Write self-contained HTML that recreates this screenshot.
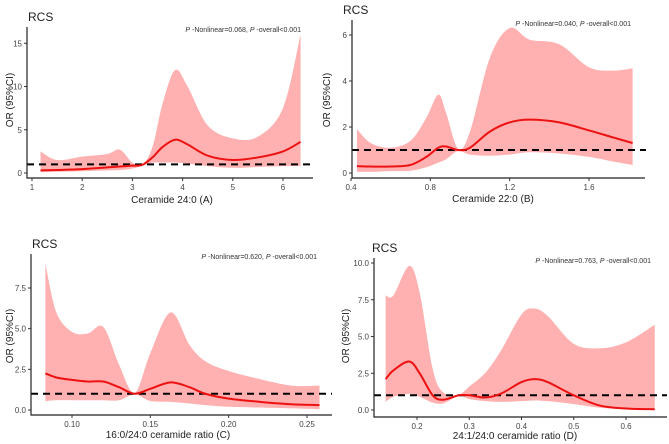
<!DOCTYPE html>
<html><head><meta charset="utf-8">
<style>
html,body{margin:0;padding:0;background:#fff;}
svg{display:block;font-family:"Liberation Sans",Arial,sans-serif;}
</style></head>
<body>
<svg id="chart" width="669" height="444" viewBox="0 0 669 444"></svg>
<script>
// Panel A: Ceramide 24:0
const aX=[1.17,1.5,2.0,2.5,2.75,3.0,3.2,3.4,3.6,3.85,4.1,4.5,5.0,5.5,6.0,6.35];
const aEst=[0.3,0.35,0.45,0.65,0.75,0.85,0.95,1.8,3.0,3.85,3.3,2.0,1.5,1.8,2.5,3.6];
const aLo=[0.1,0.15,0.2,0.3,0.35,0.5,0.85,1.2,1.2,1.2,1.1,0.8,0.6,0.7,0.8,0.8];
const aHi=[2.5,1.5,1.9,2.2,2.7,1.2,1.0,3,8,11.9,10,5.5,4.0,4.2,7.5,16];
const aXTicks=[1,2,3,4,5,6];const aYTicks=[0,5,10,15];
// Panel B: Ceramide 22:0
const bX=[0.43,0.5,0.6,0.7,0.78,0.84,0.88,0.94,1.0,1.1,1.2,1.3,1.45,1.6,1.72,1.82];
const bEst=[0.3,0.28,0.28,0.35,0.7,1.1,1.15,1.0,1.1,1.8,2.2,2.32,2.2,1.85,1.55,1.3];
const bLo=[0.05,0.05,0.08,0.1,0.25,0.45,0.6,0.95,0.8,0.75,0.8,0.9,0.85,0.7,0.5,0.35];
const bHi=[1.9,1.3,1.1,1.4,2.4,3.4,2.6,1.05,1.8,5.0,6.3,5.8,5.6,4.6,4.45,4.55];
const bXTicks=[0.4,0.8,1.2,1.6];const bYTicks=[0,2,4,6];
// Panel C: 16:0/24:0 ratio
const cX=[0.083,0.09,0.10,0.11,0.12,0.13,0.14,0.15,0.163,0.175,0.185,0.20,0.22,0.24,0.258];
const cEst=[2.25,2.0,1.85,1.75,1.75,1.4,1.0,1.3,1.7,1.4,1.0,0.7,0.5,0.35,0.3];
const cLo=[0.55,0.6,0.6,0.6,0.6,0.6,0.95,0.55,0.5,0.4,0.3,0.2,0.15,0.1,0.05];
const cHi=[9.0,6.0,4.8,4.7,5.1,2.8,1.05,3.5,6.0,4.0,3.0,2.4,1.9,1.5,1.5];
const cXTicks=[0.10,0.15,0.20,0.25];const cYTicks=[0,2.5,5,7.5];
// Panel D: 24:1/24:0 ratio
const dX=[0.14,0.155,0.185,0.205,0.23,0.25,0.28,0.3,0.33,0.36,0.4,0.425,0.45,0.5,0.55,0.6,0.655];
const dEst=[2.1,2.7,3.3,2.5,1.0,0.7,1.0,1.0,0.85,1.1,1.9,2.1,1.9,1.0,0.3,0.1,0.05];
const dLo=[0.55,0.9,1.1,0.9,0.5,0.45,0.95,0.75,0.6,0.55,0.6,0.65,0.6,0.4,0.15,0.05,0.02];
const dHi=[7.8,7.8,9.8,8.0,2.8,1.2,1.05,1.6,2.5,4.0,6.5,6.9,6.4,4.5,4.2,4.6,5.8];
const dXTicks=[0.2,0.3,0.4,0.5,0.6];const dYTicks=[0,2.5,5,7.5,10];

const NS="http://www.w3.org/2000/svg";
const svg=document.getElementById('chart');
function mk(tag,attrs,parent,text){const e=document.createElementNS(NS,tag);for(const k in attrs)e.setAttribute(k,attrs[k]);if(text!==undefined)e.textContent=text;(parent||svg).appendChild(e);return e;}
function smooth(pts){let d="M"+pts[0][0]+","+pts[0][1];for(let i=0;i<pts.length-1;i++){const p0=pts[i-1]||pts[i],p1=pts[i],p2=pts[i+1],p3=pts[i+2]||p2;const c1=[p1[0]+(p2[0]-p0[0])/6,p1[1]+(p2[1]-p0[1])/6];const c2=[p2[0]-(p3[0]-p1[0])/6,p2[1]-(p3[1]-p1[1])/6];d+=" C"+c1[0]+","+c1[1]+" "+c2[0]+","+c2[1]+" "+p2[0]+","+p2[1];}return d;}
function lin(d0,d1,r0,r1){return v=>r0+(v-d0)*(r1-r0)/(d1-d0);}

function panel(cfg){
 const g=mk('g',{});
 
 
 const xs=lin(cfg.xd[0],cfg.xd[1],cfg.xr[0],cfg.xr[1]);
 const ys=lin(cfg.yd[0],cfg.yd[1],cfg.yr[0],cfg.yr[1]);
 // band
 const up=cfg.x.map((v,i)=>[xs(v),ys(cfg.hi[i])]);
 const lo=cfg.x.map((v,i)=>[xs(v),ys(cfg.lo[i])]).reverse();
 let d=smooth(up);d+=" L"+lo[0][0]+","+lo[0][1]+smooth(lo).replace(/^M[^C]*/," ")+" Z";
 const band=mk('path',{d:d,fill:'#ffb0b0',stroke:'none'},g);
 
 
 // ref line
 const ref=mk('line',{x1:cfg.axX,x2:cfg.refEnd,y1:ys(1),y2:ys(1),stroke:'#000','stroke-width':2,'stroke-dasharray':'7,5'},g);
 
 
 // curve
 const cur=mk('path',{d:smooth(cfg.x.map((v,i)=>[xs(v),ys(cfg.est[i])])),fill:'none',stroke:'#ee1111','stroke-width':2},g);
 
 
 // axes
 const ax=mk('path',{d:`M${cfg.axX},${cfg.axTop} V${cfg.axY} H${cfg.axRight}`,fill:'none',stroke:'#222','stroke-width':1.2},g);
 
 
 cfg.xt.forEach(t=>{const x=xs(t);mk('line',{x1:x,x2:x,y1:cfg.axY,y2:cfg.axY+3,stroke:'#333'},g);
  const tl=mk('text',{x:x,y:cfg.axY+12,'font-size':8,fill:'#444','text-anchor':'middle'},g,cfg.xf(t));
  
  });
 cfg.yt.forEach(t=>{const y=ys(t);mk('line',{x1:cfg.axX-3,x2:cfg.axX,y1:y,y2:y,stroke:'#333'},g);
  const tl=mk('text',{x:cfg.axX-5,y:y+3,'font-size':8,fill:'#444','text-anchor':'end'},g,cfg.yf(t));
  
  });
 const ti=mk('text',{x:cfg.title[0],y:cfg.title[1],'font-size':12,fill:'#222'},g,'RCS');
 
 
 const p=mk('text',{x:cfg.p[0],y:cfg.p[1],'font-size':7,fill:'#333','text-anchor':'end'},g);
 
 
 mk('tspan',{'font-style':'italic'},p,'P');mk('tspan',{},p,' -Nonlinear='+cfg.pn+', ');mk('tspan',{'font-style':'italic'},p,'P');mk('tspan',{},p,' -overall<0.001');
 const xl=mk('text',{x:cfg.xl[0],y:cfg.xl[1],'font-size':10,fill:'#222','text-anchor':'middle'},g,cfg.xlabel);
 
 
 const yl=mk('text',{x:0,y:0,'font-size':10,fill:'#222','text-anchor':'middle',transform:`translate(${cfg.yl[0]},${cfg.yl[1]}) rotate(-90)`},g,'OR (95%CI)');
 
 
}
const f1=v=>String(v),f2=v=>v.toFixed(2),f1d=v=>v.toFixed(1);
panel({name:'panel-a',x:aX,est:aEst,lo:aLo,hi:aHi,xd:[1,6],xr:[32,283],yd:[0,15],yr:[173,43.3],axX:27,axTop:27,axY:178,axRight:313,refEnd:311,xt:aXTicks,yt:aYTicks,xf:f1,yf:f1,title:[28,21],p:[301,32],pn:'0.068',xl:[172,203],xlabel:'Ceramide 24:0 (A)',yl:[13,100]});
panel({name:'panel-b',x:bX,est:bEst,lo:bLo,hi:bHi,xd:[0.4,1.6],xr:[351,589],yd:[0,6],yr:[173,35],axX:352,axTop:20,axY:178,axRight:645,refEnd:646,xt:bXTicks,yt:bYTicks,xf:f1d,yf:f1,title:[343,14],p:[631,26],pn:'0.040',xl:[493,202],xlabel:'Ceramide 22:0 (B)',yl:[330,100]});
panel({name:'panel-c',x:cX,est:cEst,lo:cLo,hi:cHi,xd:[0.10,0.25],xr:[72,307],yd:[0,7.5],yr:[410,288],axX:31,axTop:254,axY:415,axRight:332,refEnd:332,xt:cXTicks,yt:cYTicks,xf:f2,yf:f1d,title:[32,248],p:[317,259],pn:'0.620',xl:[168,438],xlabel:'16:0/24:0 ceramide ratio (C)',yl:[13,336]});
panel({name:'panel-d',x:dX,est:dEst,lo:dLo,hi:dHi,xd:[0.2,0.6],xr:[417,626],yd:[0,10],yr:[410,263],axX:374,axTop:258,axY:417,axRight:667,refEnd:667,xt:dXTicks,yt:dYTicks,xf:f1,yf:f1d,title:[372,252],p:[651,263],pn:'0.763',xl:[515,439],xlabel:'24:1/24:0 ceramide ratio (D)',yl:[349,336]});
</script>
</body></html>
